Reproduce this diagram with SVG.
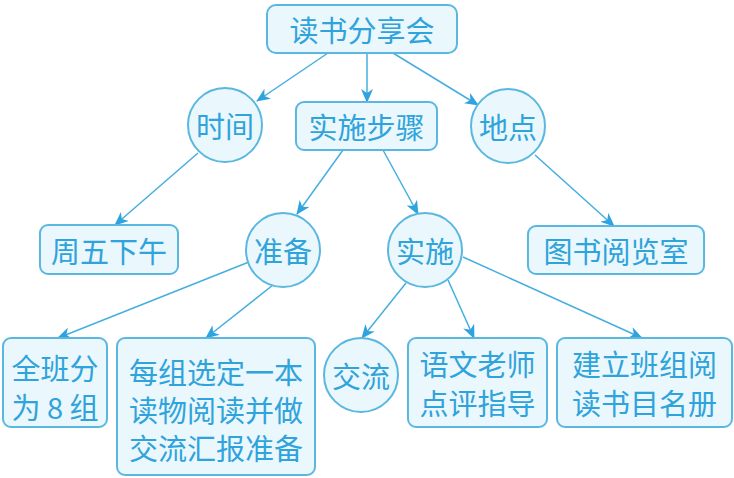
<svg xmlns="http://www.w3.org/2000/svg" width="734" height="478" viewBox="0 0 734 478">
<defs>
<style>
.box{fill:#eaf7fc;stroke:#5ab8e0;stroke-width:2}
.t{font-family:"Noto Sans CJK SC","Noto Sans",sans-serif;fill:#2fa3db;font-size:29px;text-anchor:middle;dominant-baseline:central}
.c{stroke:#45aee0;stroke-width:1.5;fill:none;marker-end:url(#ah)}
</style>
<marker id="ah" markerUnits="userSpaceOnUse" markerWidth="14" markerHeight="12" viewBox="0 0 14 12" refX="13" refY="6" orient="auto">
<path d="M0,0 L14,6 L0,12 L4,6 Z" fill="#2fa3e0"/>
</marker>
</defs>
<rect width="734" height="478" fill="#ffffff"/>
<g id="connectors">
<line class="c" x1="328" y1="53" x2="257" y2="101"/>
<line class="c" x1="367" y1="53" x2="367" y2="102"/>
<line class="c" x1="393" y1="53" x2="478" y2="105"/>
<line class="c" x1="198" y1="153" x2="115" y2="225"/>
<line class="c" x1="343" y1="150" x2="297" y2="214"/>
<line class="c" x1="383" y1="150" x2="418" y2="214"/>
<line class="c" x1="535" y1="155" x2="614" y2="226"/>
<line class="c" x1="249" y1="262" x2="58" y2="338"/>
<line class="c" x1="273" y1="285" x2="206" y2="338"/>
<line class="c" x1="406" y1="283" x2="362" y2="338"/>
<line class="c" x1="448" y1="280" x2="474" y2="338"/>
<line class="c" x1="463" y1="257" x2="642" y2="338"/>
</g>
<g id="root">
<rect class="box" x="267" y="5" width="190" height="48" rx="9"/>
<text class="t" x="362" y="29" font-size="31">读书分享会</text>
</g>
<g id="time">
<circle class="box" cx="225" cy="125" r="37"/>
<text class="t" x="225" y="125">时间</text>
</g>
<g id="steps">
<rect class="box" x="296" y="102" width="141" height="48" rx="8"/>
<text class="t" x="366.5" y="126">实施步骤</text>
</g>
<g id="place">
<circle class="box" cx="508" cy="126" r="37"/>
<text class="t" x="508" y="126">地点</text>
</g>
<g id="friday">
<rect class="box" x="40" y="225" width="138" height="49" rx="8"/>
<text class="t" x="109" y="249.5">周五下午</text>
</g>
<g id="prepare">
<circle class="box" cx="283" cy="250" r="37"/>
<text class="t" x="283" y="250">准备</text>
</g>
<g id="implement">
<circle class="box" cx="425" cy="250" r="37"/>
<text class="t" x="425" y="250">实施</text>
</g>
<g id="library">
<rect class="box" x="528" y="226" width="176" height="48" rx="8"/>
<text class="t" x="616" y="250">图书阅览室</text>
</g>
<g id="groups">
<rect class="box" x="3" y="338" width="104" height="89" rx="8"/>
<text class="t"><tspan x="55" y="367">全班分</tspan><tspan x="55" y="406">为 8 组</tspan></text>
</g>
<g id="choose">
<rect class="box" x="117" y="338" width="198" height="137" rx="8"/>
<text class="t"><tspan x="216" y="371">每组选定一本</tspan><tspan x="216" y="409">读物阅读并做</tspan><tspan x="216" y="447">交流汇报准备</tspan></text>
</g>
<g id="exchange">
<circle class="box" cx="361" cy="375" r="37"/>
<text class="t" x="361" y="375">交流</text>
</g>
<g id="teacher">
<rect class="box" x="408" y="338" width="139" height="89" rx="8"/>
<text class="t"><tspan x="477.5" y="363">语文老师</tspan><tspan x="477.5" y="402">点评指导</tspan></text>
</g>
<g id="register">
<rect class="box" x="557" y="338" width="175" height="89" rx="8"/>
<text class="t"><tspan x="644.5" y="363">建立班组阅</tspan><tspan x="644.5" y="402">读书目名册</tspan></text>
</g>
</svg>
